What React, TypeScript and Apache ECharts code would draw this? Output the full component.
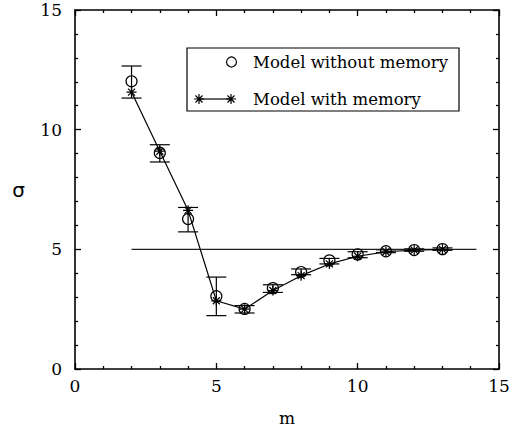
import React, { useEffect, useRef } from "react";
import * as echarts from "echarts";

const mValues = [2, 3, 4, 5, 6, 7, 8, 9, 10, 11, 12, 13];
const withoutMemory = [12.02, 9.03, 6.27, 3.04, 2.51, 3.38, 4.05, 4.54, 4.79, 4.92, 4.97, 5.01];
const errLow = [11.32, 8.65, 5.73, 2.23, 2.34, 3.2, 3.94, 4.39, 4.65, 4.86, 4.92, 4.96];
const errHigh = [12.66, 9.37, 6.75, 3.84, 2.65, 3.52, 4.18, 4.62, 4.9, 4.98, 5.02, 5.06];
const withMemory = [11.57, 9.1, 6.63, 2.85, 2.5, 3.28, 3.9, 4.39, 4.71, 4.9, 4.97, 5.0];
const refLine = [[2, 5], [14.2, 5]];
const xTicks = [0, 5, 10, 15];
const yTicks = [0, 5, 10, 15];
const legendLabels = ["Model without memory", "Model with memory"];

const STAR_D = "M5,0L5,10M0,5L10,5M1.5,1.5L8.5,8.5M1.5,8.5L8.5,1.5";
const FONT = "DejaVu Serif";

export default function App() {
  const ref = useRef<HTMLDivElement>(null);
  useEffect(() => {
    if (!ref.current) return;
    echarts.graphic.registerShape("star8", echarts.graphic.extendPath(STAR_D, {}) as any);
    const chart = echarts.init(ref.current, null, { renderer: "svg" });
    const mkAxis = () => ({
      min: 0,
      max: 15,
      interval: 5,
      axisLine: { show: true, onZero: false, lineStyle: { color: "#000", width: 1.6 } },
      axisTick: { show: true, inside: true, length: 6, lineStyle: { color: "#000", width: 1.3 } },
      minorTick: { show: true, splitNumber: 5, length: 3, lineStyle: { color: "#000", width: 1.3 } },
      splitLine: { show: false },
    });
    const labelStyle = { color: "#000", fontFamily: FONT, fontSize: 17 };
    const starSymbol = "path://" + STAR_D;
    const legendX = 187, legendY = 48;
    chart.setOption({
      animation: false,
      backgroundColor: "#fff",
      textStyle: { fontFamily: FONT },
      grid: { left: 75, right: 30, top: 10, bottom: 63 },
      xAxis: [
        {
          type: "value",
          ...mkAxis(),
          position: "bottom",
          axisLabel: { ...labelStyle, margin: 8, formatter: (v: number) => (xTicks.includes(v) ? String(v) : "") },
          name: "m",
          nameLocation: "middle",
          nameGap: 40,
          nameTextStyle: labelStyle,
        },
        { type: "value", ...mkAxis(), position: "top", axisLabel: { show: false } },
      ],
      yAxis: [
        {
          type: "value",
          ...mkAxis(),
          position: "left",
          axisLabel: { ...labelStyle, margin: 13, formatter: (v: number) => (yTicks.includes(v) ? String(v) : "") },
          name: "σ",
          nameLocation: "middle",
          nameRotate: 0,
          nameGap: 50,
          nameTextStyle: { ...labelStyle, fontFamily: "DejaVu Sans", fontSize: 20 },
        },
        { type: "value", ...mkAxis(), position: "right", axisLabel: { show: false } },
      ],
      series: [
        {
          type: "line",
          xAxisIndex: 1,
          yAxisIndex: 1,
          data: refLine,
          symbol: "none",
          lineStyle: { color: "#222", width: 1.2 },
          silent: true,
        },
        {
          type: "custom",
          data: mValues.map((m, i) => [m, errLow[i], errHigh[i]]),
          renderItem: (params: any, api: any) => {
            const lo = api.coord([api.value(0), api.value(1)]);
            const hi = api.coord([api.value(0), api.value(2)]);
            const hw = 10;
            const st = { stroke: "#000", lineWidth: 1.2 };
            return {
              type: "group",
              children: [
                { type: "line", shape: { x1: lo[0], y1: lo[1], x2: hi[0], y2: hi[1] }, style: st },
                { type: "line", shape: { x1: lo[0] - hw, y1: lo[1], x2: lo[0] + hw, y2: lo[1] }, style: st },
                { type: "line", shape: { x1: hi[0] - hw, y1: hi[1], x2: hi[0] + hw, y2: hi[1] }, style: st },
              ],
            };
          },
        },
        {
          type: "line",
          name: legendLabels[0],
          data: mValues.map((m, i) => [m, withoutMemory[i]]),
          symbol: "circle",
          symbolSize: 11,
          showSymbol: true,
          lineStyle: { width: 0, opacity: 0 },
          itemStyle: { color: "rgba(0,0,0,0)", borderColor: "#000", borderWidth: 1.2 },
        },
        {
          type: "line",
          name: legendLabels[1],
          data: mValues.map((m, i) => [m, withMemory[i]]),
          symbol: starSymbol,
          symbolSize: 10,
          lineStyle: { color: "#000", width: 1.2 },
          itemStyle: { color: "#000", borderColor: "#000", borderWidth: 1.2 },
        },
      ],
      graphic: [
        {
          type: "rect",
          shape: { x: legendX, y: legendY, width: 272, height: 63 },
          style: { fill: "#fff", stroke: "#000", lineWidth: 1.2 },
          z: 100,
        },
        {
          type: "circle",
          shape: { cx: 231.5, cy: 62, r: 5 },
          style: { fill: "none", stroke: "#000", lineWidth: 1.2 },
          z: 101,
        },
        {
          type: "text",
          x: 253,
          y: 62,
          style: { text: legendLabels[0], fill: "#000", fontFamily: FONT, fontSize: 16.5, verticalAlign: "middle" },
          z: 101,
        },
        {
          type: "line",
          shape: { x1: 199, y1: 99, x2: 231, y2: 99 },
          style: { stroke: "#000", lineWidth: 1.2 },
          z: 101,
        },
        {
          type: "star8",
          x: 194,
          y: 94,
          style: { stroke: "#000", fill: "none", lineWidth: 1.2 },
          z: 101,
        },
        {
          type: "star8",
          x: 226,
          y: 94,
          style: { stroke: "#000", fill: "none", lineWidth: 1.2 },
          z: 101,
        },
        {
          type: "text",
          x: 253,
          y: 99,
          style: { text: legendLabels[1], fill: "#000", fontFamily: FONT, fontSize: 16.5, verticalAlign: "middle" },
          z: 101,
        },
      ],
    });
    return () => chart.dispose();
  }, []);
  return <div ref={ref} style={{ width: 529, height: 432, position: "absolute", left: 0, top: 0 }} />;
}
